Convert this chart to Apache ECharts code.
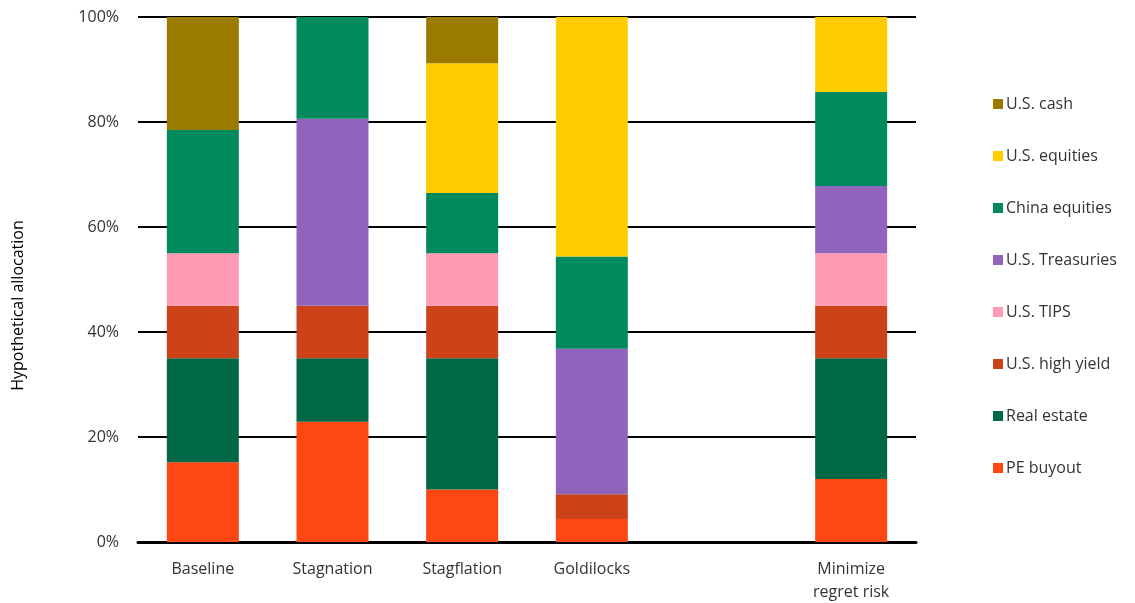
<!DOCTYPE html>
<html>
<head>
<meta charset="utf-8">
<script src="https://cdn.jsdelivr.net/npm/echarts@6/dist/echarts.min.js"></script>
<style>
  html, body { margin: 0; padding: 0; background: #fff; }
  #chart-container { width: 1135px; height: 603px; }
</style>
</head>
<body>
<div id="chart-container"></div>
<script>
var categories = ['Baseline', 'Stagnation', 'Stagflation', 'Goldilocks', '', 'Minimize\nregret risk'];

// allocation in %, per scenario (the 5th slot is an empty spacer)
var peBuyout     = [15.2, 22.9, 10.0, 4.4, null, 12.0];
var realEstate   = [19.8, 12.1, 25.0, 0, null, 23.0];
var highYield    = [10.0, 10.0, 10.0, 4.7, null, 10.0];
var tips         = [10.0, 0, 10.0, 0, null, 10.0];
var treasuries   = [0, 35.6, 0, 27.7, null, 12.8];
var chinaEquity  = [23.5, 19.4, 11.5, 17.6, null, 17.9];
var usEquity     = [0, 0, 24.7, 45.6, null, 14.3];
var usCash       = [21.5, 0, 8.8, 0, null, 0];

var yTicks = [0, 20, 40, 60, 80, 100];

var font = '"Open Sans", "Liberation Sans", sans-serif';

var seriesDefs = [
    { name: 'PE buyout', data: peBuyout, color: '#FF4713' },
    { name: 'Real estate', data: realEstate, color: '#006847' },
    { name: 'U.S. high yield', data: highYield, color: '#CC4219' },
    { name: 'U.S. TIPS', data: tips, color: '#FF9BB5' },
    { name: 'U.S. Treasuries', data: treasuries, color: '#9063BC' },
    { name: 'China equities', data: chinaEquity, color: '#008A5E' },
    { name: 'U.S. equities', data: usEquity, color: '#FFCC00' },
    { name: 'U.S. cash', data: usCash, color: '#9A7B00' }
];

var series = [];
var legendNames = [];
seriesDefs.forEach(function (s) {
    legendNames.unshift(s.name);
    series.push({
        name: s.name,
        type: 'bar',
        stack: 'alloc',
        barWidth: 72,
        data: s.data,
        itemStyle: { color: s.color },
        emphasis: { disabled: true }
    });
});

var myChart = echarts.init(document.getElementById('chart-container'));
var option = {
    animation: false,
    grid: { left: 138, right: 219, top: 17, bottom: 61, outerBoundsMode: 'none', containLabel: false },
    legend: {
        orient: 'vertical',
        left: 988,
        top: 89,
        itemWidth: 10,
        itemHeight: 10,
        itemGap: 32,
        icon: 'rect',
        data: legendNames,
        textStyle: { fontFamily: font, fontSize: 16, color: '#333', lineHeight: 20, padding: [0, 0, 0, -2] }
    },
    xAxis: {
        type: 'category',
        data: categories,
        axisLine: { lineStyle: { color: '#000', width: 3 } },
        axisTick: { show: false },
        axisLabel: { fontFamily: font, fontSize: 16, color: '#333', margin: 16, lineHeight: 23, interval: 0 }
    },
    yAxis: {
        type: 'value',
        min: 0,
        max: 100,
        interval: 20,
        name: 'Hypothetical allocation',
        nameLocation: 'middle',
        nameGap: 112,
        nameTextStyle: { fontFamily: font, fontSize: 16, color: '#000', padding: [0, 52, 0, 0] },
        axisLine: { show: false },
        axisTick: { show: false },
        splitLine: { lineStyle: { color: '#000', width: 2 } },
        axisLabel: {
            fontFamily: font, fontSize: 16, color: '#333', margin: 19,
            formatter: function (v) { return yTicks.indexOf(v) >= 0 ? v + '%' : ''; }
        }
    },
    series: series
};
myChart.setOption(option);
</script>
</body>
</html>
